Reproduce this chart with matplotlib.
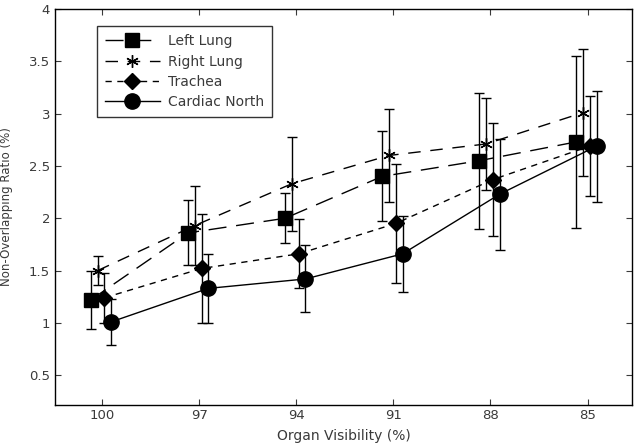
import matplotlib
matplotlib.use("Agg")
import matplotlib.pyplot as plt
import numpy as np

plt.rcParams['font.family'] = ['DejaVu Sans']
plt.rcParams['lines.scale_dashes'] = False

categories = ["100", "97", "94", "91", "88", "85"]
series_names = ["Left Lung", "Right Lung", "Trachea", "Cardiac North"]
left_lung = [1.22, 1.86, 2.00, 2.40, 2.55, 2.73]
left_lung_err = [0.28, 0.31, 0.24, 0.43, 0.65, 0.82]
right_lung = [1.50, 1.93, 2.33, 2.60, 2.71, 3.01]
right_lung_err = [0.14, 0.38, 0.45, 0.44, 0.44, 0.61]
trachea = [1.24, 1.52, 1.66, 1.95, 2.37, 2.69]
trachea_err = [0.24, 0.52, 0.33, 0.57, 0.54, 0.48]
cardiac = [1.01, 1.33, 1.42, 1.66, 2.23, 2.69]
cardiac_err = [0.22, 0.33, 0.32, 0.36, 0.53, 0.53]

values = [left_lung, right_lung, trachea, cardiac]
errors = [left_lung_err, right_lung_err, trachea_err, cardiac_err]
offsets = [-0.115, -0.045, 0.025, 0.095]
markers = ['s', (6, 2, 0), 'D', 'o']
msizes = [9.5, 9, 8, 11]
styles = [(0, (13, 7)), (0, (9, 7)), (0, (4.5, 4)), '-']

fig = plt.figure(figsize=(6.38, 4.48), dpi=100)
ax = fig.add_axes([0.086, 0.097, 0.905, 0.883])

x = np.arange(1, len(categories) + 1)
for name, v, e, off, m, ms, ls in zip(series_names, values, errors, offsets, markers, msizes, styles):
    xs = x + off
    ax.errorbar(xs, v, yerr=e, fmt='none', ecolor='black', elinewidth=1.0,
                capsize=3.5, capthick=1.0, zorder=2)
    ax.plot(xs, v, color='black', linestyle=ls, linewidth=1.0, marker=m,
            markersize=ms, markerfacecolor='black', markeredgecolor='black',
            markeredgewidth=1.0, label=name, zorder=3)

ax.set_xlim(0.515, 6.46)
ax.set_ylim(0.22, 4)
ax.set_xticks(x)
ax.set_xticklabels(categories)
ax.set_yticks([0.5, 1, 1.5, 2, 2.5, 3, 3.5, 4])
ax.set_yticklabels(["0.5", "1", "1.5", "2", "2.5", "3", "3.5", "4"])
ax.tick_params(direction='in', length=4, width=0.8, labelsize=9.5, colors='#3a3a3a',
               top=True, right=True, pad=3.5)
for s in ax.spines.values():
    s.set_linewidth(1.0)
ax.set_xlabel("Organ Visibility (%)", fontsize=10, color='#3a3a3a', labelpad=5)
ax.set_ylabel("Non-Overlapping Ratio (%)", fontsize=8.5, color='#3a3a3a')
ax.yaxis.set_label_coords(-0.072, 0.5)

leg = ax.legend(loc='upper left', bbox_to_anchor=(0.073, 0.957), fontsize=10,
                handlelength=3.9, frameon=True, fancybox=False, borderaxespad=0,
                labelspacing=0.45, borderpad=0.6, handletextpad=0.6)
leg.get_frame().set_edgecolor('black')
leg.get_frame().set_linewidth(1.0)
for t in leg.get_texts():
    t.set_color('#3a3a3a')

fig.savefig("out.png", dpi=100)
